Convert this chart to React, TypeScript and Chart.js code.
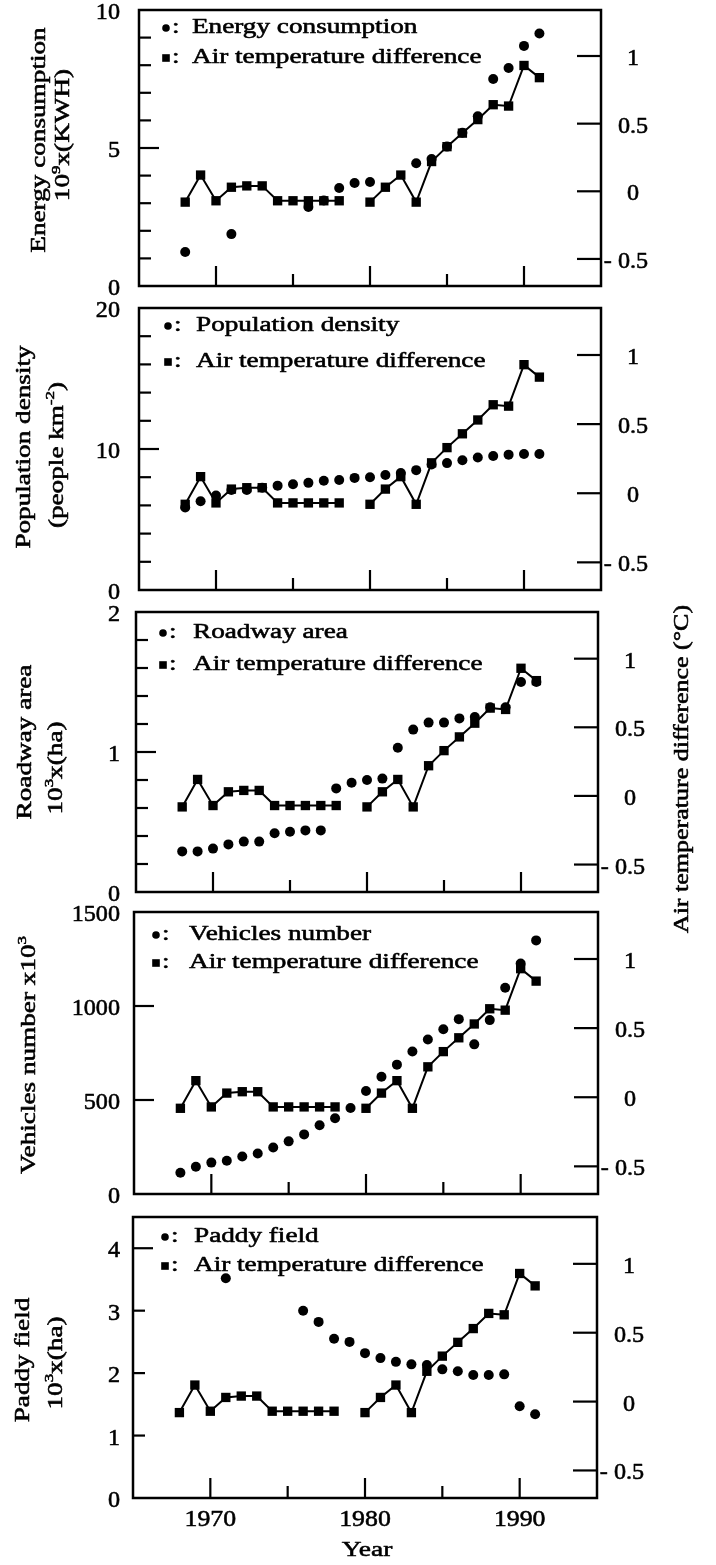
import React, { useEffect, useRef } from 'react';
import { Chart, registerables } from 'chart.js';

Chart.register(...registerables);

const W = 716;
const H = 1565;
const FONT = '"Liberation Serif", "Times New Roman", Times, serif';

// ---------------- data ----------------
const YEARS = [1968, 1969, 1970, 1971, 1972, 1973, 1974, 1975, 1976, 1977, 1978, 1979, 1980, 1981, 1982, 1983, 1984, 1985, 1986, 1987, 1988, 1989, 1990, 1991];
const TEMP_DIFF = [-0.08, 0.12, -0.07, 0.03, 0.04, 0.04, -0.07, -0.07, -0.07, -0.07, -0.07, null, -0.08, 0.03, 0.12, -0.08, 0.22, 0.33, 0.43, 0.53, 0.64, 0.63, 0.93, 0.84];
const ENERGY = [1.23, null, null, 1.88, null, null, null, null, 2.86, 3.1, 3.55, 3.73, 3.77, null, null, 4.45, 4.6, 5.05, 5.55, 6.15, 7.5, 7.9, 8.7, 9.15];
const POPULATION = [5.85, 6.3, 6.7, 7.1, 7.1, 7.25, 7.4, 7.5, 7.6, 7.75, 7.8, 7.95, 8.0, 8.15, 8.3, 8.5, 8.9, 9.0, 9.2, 9.4, 9.5, 9.6, 9.65, 9.65];
const ROADWAY = [0.29, 0.29, 0.31, 0.34, 0.36, 0.36, 0.42, 0.43, 0.44, 0.44, 0.74, 0.78, 0.8, 0.81, 1.03, 1.16, 1.21, 1.21, 1.24, 1.25, 1.32, 1.32, 1.5, 1.5];
const VEHICLES = [113, 145, 167, 177, 199, 215, 247, 280, 317, 366, 403, 457, 548, 624, 688, 758, 822, 876, 930, 796, 925, 1097, 1226, 1349];
const PADDY = [null, null, null, 3.52, null, null, null, null, 3.0, 2.82, 2.55, 2.5, 2.32, 2.24, 2.18, 2.14, 2.13, 2.06, 2.03, 1.97, 1.97, 1.98, 1.47, 1.34];

const X_TICKS = [1970, 1975, 1980, 1985, 1990];
const X_MAJOR = [1970, 1980, 1990];
const X_LABELS = ['1970', '1980', '1990'];
const TEMP_TICKS = [1, 0.5, 0, -0.5];
const TEMP_LABELS = ['1', '0.5', '0', '- 0.5'];

const ENERGY_TICKS = [1, 2, 3, 4, 5, 6, 7, 8, 9];
const ENERGY_MAJOR = [5];
const ENERGY_LABELS = [0, 5, 10];
const POP_TICKS = [2, 4, 6, 8, 10, 12, 14, 16, 18];
const POP_MAJOR = [10];
const POP_LABELS = [0, 10, 20];
const ROAD_TICKS = [0.2, 0.4, 0.6, 0.8, 1, 1.2, 1.4, 1.6, 1.8];
const ROAD_MAJOR = [1];
const ROAD_LABELS = [0, 1, 2];
const VEH_TICKS = [500, 1000];
const VEH_MAJOR = [500, 1000];
const VEH_LABELS = [0, 500, 1000, 1500];
const PADDY_TICKS = [1, 2, 3, 4];
const PADDY_MAJOR = [4];
const PADDY_LABELS = [0, 1, 2, 3, 4];

const TEMP_LEGEND = 'Air temperature difference';
const RIGHT_TITLE = 'Air temperature difference (°C)';
const X_TITLE = 'Year';

type Seg = { t: string; sup?: boolean };

const PANELS = [
  {
    key: 'energy', values: ENERGY, label: 'Energy consumption', yMax: 10,
    ticks: ENERGY_TICKS, major: ENERGY_MAJOR, labels: ENERGY_LABELS,
    title: [[{ t: 'Energy consumption' }], [{ t: '10' }, { t: '9', sup: true }, { t: 'x(KWH)' }]] as Seg[][],
    box: { left: 139, right: 601, top: 10, bottom: 286 },
    titleX: [40, 64], titleY: [140, 135], legendY: [18, 48], markerX: 166, textX: 192,
  },
  {
    key: 'population', values: POPULATION, label: 'Population density', yMax: 20,
    ticks: POP_TICKS, major: POP_MAJOR, labels: POP_LABELS,
    title: [[{ t: 'Population density' }], [{ t: '(people km' }, { t: '-2', sup: true }, { t: ')' }]] as Seg[][],
    box: { left: 139, right: 601, top: 308, bottom: 590 },
    titleX: [25, 58], titleY: [447, 455], legendY: [18, 54], markerX: 168, textX: 196,
  },
  {
    key: 'roadway', values: ROADWAY, label: 'Roadway area', yMax: 2,
    ticks: ROAD_TICKS, major: ROAD_MAJOR, labels: ROAD_LABELS,
    title: [[{ t: 'Roadway area' }], [{ t: '10' }, { t: '3', sup: true }, { t: 'x(ha)' }]] as Seg[][],
    box: { left: 136, right: 598, top: 612, bottom: 892 },
    titleX: [26, 57], titleY: [742, 768], legendY: [21, 53], markerX: 163, textX: 193,
  },
  {
    key: 'vehicles', values: VEHICLES, label: 'Vehicles number', yMax: 1500,
    ticks: VEH_TICKS, major: VEH_MAJOR, labels: VEH_LABELS,
    title: [[{ t: 'Vehicles number x10' }, { t: '3', sup: true }]] as Seg[][],
    box: { left: 134, right: 598, top: 912, bottom: 1194 },
    titleX: [30], titleY: [1055], legendY: [23, 51], markerX: 156, textX: 189,
  },
  {
    key: 'paddy', values: PADDY, label: 'Paddy field', yMax: 4.5,
    ticks: PADDY_TICKS, major: PADDY_MAJOR, labels: PADDY_LABELS,
    title: [[{ t: 'Paddy field' }], [{ t: '10' }, { t: '3', sup: true }, { t: 'x(ha)' }]] as Seg[][],
    box: { left: 133, right: 597, top: 1217, bottom: 1498 },
    titleX: [24, 57], titleY: [1360, 1363], legendY: [20, 49], markerX: 165, textX: 194,
  },
];

const TITLE_SIZE = 20;
const TITLE_STRETCH = 1.36;
const TICK_SIZE = 23;
const TICK_STRETCH = 1.05;

const fontOf = (size: number) => `${size}px ${FONT}`;

function drawRich(
  ctx: CanvasRenderingContext2D,
  segs: Seg[],
  x: number,
  y: number,
  size: number,
  stretch: number,
  align: 'left' | 'center' | 'right',
  angle = 0,
) {
  ctx.save();
  ctx.translate(x, y);
  if (angle) ctx.rotate(angle);
  ctx.scale(stretch, 1);
  ctx.fillStyle = '#000';
  ctx.strokeStyle = '#000';
  ctx.lineWidth = 0.55;
  ctx.lineJoin = 'round';
  ctx.textBaseline = 'middle';
  ctx.textAlign = 'left';
  const widths = segs.map((s) => {
    ctx.font = fontOf(s.sup ? size * 0.62 : size);
    return ctx.measureText(s.t).width;
  });
  const total = widths.reduce((a, b) => a + b, 0);
  let cx = align === 'center' ? -total / 2 : align === 'right' ? -total : 0;
  segs.forEach((s, i) => {
    ctx.font = fontOf(s.sup ? size * 0.62 : size);
    const ty = s.sup ? -size * 0.38 : 0;
    ctx.fillText(s.t, cx, ty);
    ctx.strokeText(s.t, cx, ty);
    cx += widths[i];
  });
  ctx.restore();
}

function line(ctx: CanvasRenderingContext2D, x1: number, y1: number, x2: number, y2: number) {
  ctx.beginPath();
  ctx.moveTo(x1, y1);
  ctx.lineTo(x2, y2);
  ctx.stroke();
}

function makeConfig(p: (typeof PANELS)[number], isLast: boolean): any {
  const decor = {
    id: 'decor-' + p.key,
    afterDraw(chart: any) {
      const ctx: CanvasRenderingContext2D = chart.ctx;
      const { left, right, top, bottom } = chart.chartArea;
      const xs = chart.scales.x;
      const ys = chart.scales.y;
      const y2 = chart.scales.y2;
      ctx.save();
      ctx.strokeStyle = '#000';
      ctx.lineCap = 'butt';
      // box
      ctx.lineWidth = 2.5;
      ctx.strokeRect(left, top, right - left, bottom - top);
      // left ticks
      ctx.lineWidth = 2.2;
      p.ticks.forEach((v) => {
        const py = ys.getPixelForValue(v);
        const len = p.major.includes(v) ? 20 : 12;
        line(ctx, left, py, left + len, py);
      });
      // right ticks
      TEMP_TICKS.forEach((v) => {
        const py = y2.getPixelForValue(v);
        line(ctx, right - 24, py, right, py);
      });
      // x ticks
      X_TICKS.forEach((v) => {
        const px = xs.getPixelForValue(v);
        const len = X_MAJOR.includes(v) ? 20 : 12;
        line(ctx, px, bottom, px, bottom - len);
      });
      // left tick labels
      p.labels.forEach((v) => {
        drawRich(ctx, [{ t: String(v) }], 120, ys.getPixelForValue(v) + 3, TICK_SIZE, TICK_STRETCH, 'right');
      });
      // right tick labels
      TEMP_TICKS.forEach((v, i) => {
        const txt = TEMP_LABELS[i];
        let cx = right + 32;
        if (txt.startsWith('- ')) {
          ctx.font = fontOf(TICK_SIZE);
          const pre = ctx.measureText('- ').width * TICK_STRETCH;
          cx -= pre / 2;
        }
        drawRich(ctx, [{ t: txt }], cx, y2.getPixelForValue(v) + 3, TICK_SIZE, TICK_STRETCH, 'center');
      });
      // legend
      ctx.fillStyle = '#000';
      const l1 = top + p.legendY[0];
      const l2 = top + p.legendY[1];
      ctx.beginPath();
      ctx.arc(p.markerX, l1, 3.8, 0, Math.PI * 2);
      ctx.fill();
      ctx.fillRect(p.markerX - 3.8, l2 - 3.8, 7.6, 7.6);
      drawRich(ctx, [{ t: ':' }], p.markerX + 6, l1, TITLE_SIZE, TITLE_STRETCH, 'left');
      drawRich(ctx, [{ t: ':' }], p.markerX + 6, l2, TITLE_SIZE, TITLE_STRETCH, 'left');
      drawRich(ctx, [{ t: p.label }], p.textX, l1, TITLE_SIZE, TITLE_STRETCH, 'left');
      drawRich(ctx, [{ t: TEMP_LEGEND }], p.textX, l2, TITLE_SIZE, TITLE_STRETCH, 'left');
      // left axis title
      p.title.forEach((segs, i) => {
        drawRich(ctx, segs, p.titleX[i], p.titleY[i], TITLE_SIZE, TITLE_STRETCH, 'center', -Math.PI / 2);
      });
      if (isLast) {
        X_MAJOR.forEach((v, i) => {
          drawRich(ctx, [{ t: X_LABELS[i] }], xs.getPixelForValue(v), bottom + 22, 23, 1.12, 'center');
        });
        drawRich(ctx, [{ t: X_TITLE }], xs.getPixelForValue(1980) + 2, bottom + 52, 22, 1.25, 'center');
        drawRich(ctx, [{ t: RIGHT_TITLE }], 683, 769, TITLE_SIZE, 1.3, 'center', -Math.PI / 2);
      }
      ctx.restore();
    },
  };

  return {
    type: 'line',
    data: {
      datasets: [
        {
          label: TEMP_LEGEND,
          data: YEARS.map((yr, i) => ({ x: yr, y: TEMP_DIFF[i] })),
          yAxisID: 'y2',
          borderColor: '#000',
          borderWidth: 2,
          pointStyle: 'rect',
          pointRadius: 6.6,
          pointBackgroundColor: '#000',
          pointBorderColor: '#000',
          pointBorderWidth: 0,
          spanGaps: false,
          tension: 0,
        },
        {
          label: p.label,
          data: YEARS.map((yr, i) => ({ x: yr, y: p.values[i] })).filter((d) => d.y !== null),
          yAxisID: 'y',
          showLine: false,
          pointStyle: 'circle',
          pointRadius: 5,
          pointBackgroundColor: '#000',
          pointBorderColor: '#000',
          pointBorderWidth: 0,
        },
      ],
    },
    options: {
      responsive: false,
      animation: false,
      events: [],
      layout: {
        padding: {
          left: p.box.left,
          right: W - p.box.right,
          top: p.box.top,
          bottom: H - p.box.bottom,
        },
      },
      scales: {
        x: { type: 'linear', min: 1965, max: 1995, display: false },
        y: { type: 'linear', min: 0, max: p.yMax, display: false },
        y2: { type: 'linear', position: 'right', min: -0.7, max: 1.34, display: false },
      },
      plugins: {
        legend: { display: false },
        tooltip: { enabled: false },
      },
    },
    plugins: [decor],
  };
}

export default function App() {
  const refs = useRef<(HTMLCanvasElement | null)[]>([]);
  useEffect(() => {
    const charts = PANELS.map((p, i) => new Chart(refs.current[i] as HTMLCanvasElement, makeConfig(p, i === PANELS.length - 1)));
    return () => charts.forEach((c) => c.destroy());
  }, []);
  return (
    <div style={{ position: 'absolute', left: 0, top: 0, width: W, height: H, background: '#fff' }}>
      {PANELS.map((p, i) => (
        <canvas
          key={p.key}
          ref={(el) => {
            refs.current[i] = el;
          }}
          width={W}
          height={H}
          style={{ position: 'absolute', left: 0, top: 0, width: W, height: H }}
        />
      ))}
    </div>
  );
}
